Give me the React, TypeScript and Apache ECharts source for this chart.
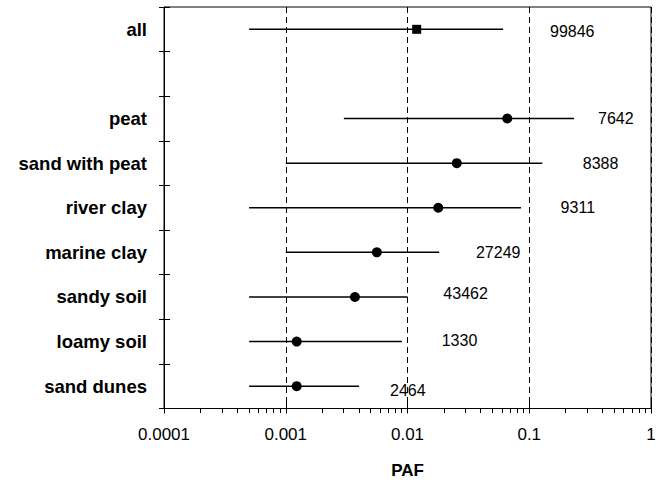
import React, { useEffect, useRef } from "react";
import * as echarts from "echarts";

// ---- data ----
const categories = ["all", " ", "peat", "sand with peat", "river clay", "marine clay", "sandy soil", "loamy soil", "sand dunes"];
const pafMedian = [0.0119, null, 0.066, 0.0254, 0.0179, 0.0056, 0.0037, 0.00123, 0.00123];
const pafLower = [0.0005, null, 0.003, 0.001, 0.0005, 0.001, 0.0005, 0.0005, 0.0005];
const pafUpper = [0.061, null, 0.233, 0.128, 0.0855, 0.0182, 0.01, 0.009, 0.004];
const sampleCounts = [99846, null, 7642, 8388, 9311, 27249, 43462, 1330, 2464];
const xTickLabels = ["0.0001", "0.001", "0.01", "0.1", "1"];
const minorMultipliers = [2, 3, 4, 5, 6, 7, 8, 9];
const decades = [0.0001, 0.001, 0.01, 0.1];

// ---- layout (where the count labels start, in axis units, and small vertical nudges) ----
const countLabelX = [0.148, null, 0.367, 0.275, 0.181, 0.0365, 0.0197, 0.0191, 0.00718];
const countLabelDy = [2, 0, 0, 0, 0, 0, -3, -1, 4];

const FONT = "'Liberation Sans', Arial, sans-serif";

export default function App() {
  const ref = useRef<HTMLDivElement>(null);
  useEffect(() => {
    if (!ref.current) return;
    const chart = echarts.init(ref.current, undefined, { renderer: "svg" });

    const barData: any[] = [];
    const allPoint: any[] = [];
    const circlePoints: any[] = [];
    const labelData: any[] = [];
    categories.forEach((_, i) => {
      if (pafMedian[i] == null) return;
      barData.push([i, pafLower[i], pafUpper[i]]);
      if (i === 0) allPoint.push([pafMedian[i], i]);
      else circlePoints.push([pafMedian[i], i]);
      labelData.push([countLabelX[i], i, sampleCounts[i], countLabelDy[i]]);
    });
    const minorTickData: number[][] = [];
    decades.forEach((d) => minorMultipliers.forEach((m) => minorTickData.push([d * m, 8])));

    const logAxisBase = { type: "log", logBase: 10, min: 0.0001, max: 1 };

    const option: any = {
      animation: false,
      backgroundColor: "#fff",
      grid: {
        left: 164,
        right: 14,
        top: 7,
        bottom: 71,
        show: true,
        borderColor: "#000",
        borderWidth: 1,
        backgroundColor: "transparent",
      },
      xAxis: [
        {
          ...logAxisBase,
          name: "PAF",
          nameLocation: "middle",
          nameGap: 62,
          nameTextStyle: { fontFamily: FONT, fontWeight: "bold", fontSize: 17, color: "#000", verticalAlign: "middle" },
          axisLine: { show: true, lineStyle: { color: "#000", width: 1 } },
          axisTick: { show: true, length: 5, lineStyle: { color: "#000" } },
          axisLabel: {
            fontFamily: FONT,
            fontSize: 17,
            color: "#000",
            margin: 17,
            formatter: (v: number) => xTickLabels[Math.round(Math.log10(v)) + 4] ?? "",
          },
          splitLine: { show: true, lineStyle: { color: "#000", type: [6, 4], width: 1 } },
        },
        {
          ...logAxisBase,
          position: "bottom",
          axisLine: { show: false },
          axisTick: { show: true, inside: true, length: 8, lineStyle: { color: "#000" } },
          axisLabel: { show: false },
          splitLine: { show: false },
        },
      ],
      yAxis: [
        {
          type: "category",
          data: categories,
          inverse: true,
          axisLine: { show: true, lineStyle: { color: "#000", width: 1 } },
          axisTick: { show: true, inside: true, length: 6, lineStyle: { color: "#000" } },
          axisLabel: { fontFamily: FONT, fontSize: 18.5, fontWeight: "bold", color: "#000", margin: 17 },
          splitLine: { show: false },
        },
        {
          type: "category",
          data: categories,
          inverse: true,
          position: "left",
          axisLine: { show: false },
          axisTick: { show: true, inside: false, length: 5, lineStyle: { color: "#000" } },
          axisLabel: { show: false },
          splitLine: { show: false },
        },
      ],
      series: [
        {
          type: "custom",
          name: "range",
          data: barData,
          encode: { x: [1, 2], y: 0 },
          renderItem: (params: any, api: any) => {
            const lo = api.coord([api.value(1), api.value(0)]);
            const hi = api.coord([api.value(2), api.value(0)]);
            return {
              type: "line",
              shape: { x1: lo[0], y1: lo[1], x2: hi[0], y2: hi[1] },
              style: { stroke: "#000", lineWidth: 1.5 },
            };
          },
          z: 2,
        },
        {
          type: "custom",
          name: "minorTicks",
          data: minorTickData,
          encode: { x: 0, y: 1 },
          clip: false,
          silent: true,
          renderItem: (params: any, api: any) => {
            const p = api.coord([api.value(0), api.value(1)]);
            const b = Math.round(params.coordSys.y + params.coordSys.height);
            return {
              type: "rect",
              shape: { x: Math.floor(p[0]), y: b, width: 1, height: 4 },
              style: { fill: "#000" },
            };
          },
          z: 5,
        },
        {
          type: "scatter",
          name: "all",
          data: allPoint,
          symbol: "rect",
          symbolSize: 9,
          itemStyle: { color: "#000", opacity: 1 },
          z: 3,
        },
        {
          type: "scatter",
          name: "median",
          data: circlePoints,
          symbol: "circle",
          symbolSize: 10,
          itemStyle: { color: "#000", opacity: 1 },
          z: 3,
        },
        {
          type: "custom",
          name: "counts",
          data: labelData,
          encode: { x: 0, y: 1 },
          clip: false,
          renderItem: (params: any, api: any) => {
            const p = api.coord([api.value(0), api.value(1)]);
            return {
              type: "text",
              x: p[0],
              y: p[1] + api.value(3),
              style: {
                text: String(api.value(2)),
                fontFamily: FONT,
                fontSize: 16,
                fill: "#000",
                align: "left",
                verticalAlign: "middle",
              },
            };
          },
          z: 4,
        },
      ],
    };
    chart.setOption(option);
    return () => chart.dispose();
  }, []);
  return <div ref={ref} style={{ width: 665, height: 484, position: "absolute", left: 0, top: 0 }} />;
}
